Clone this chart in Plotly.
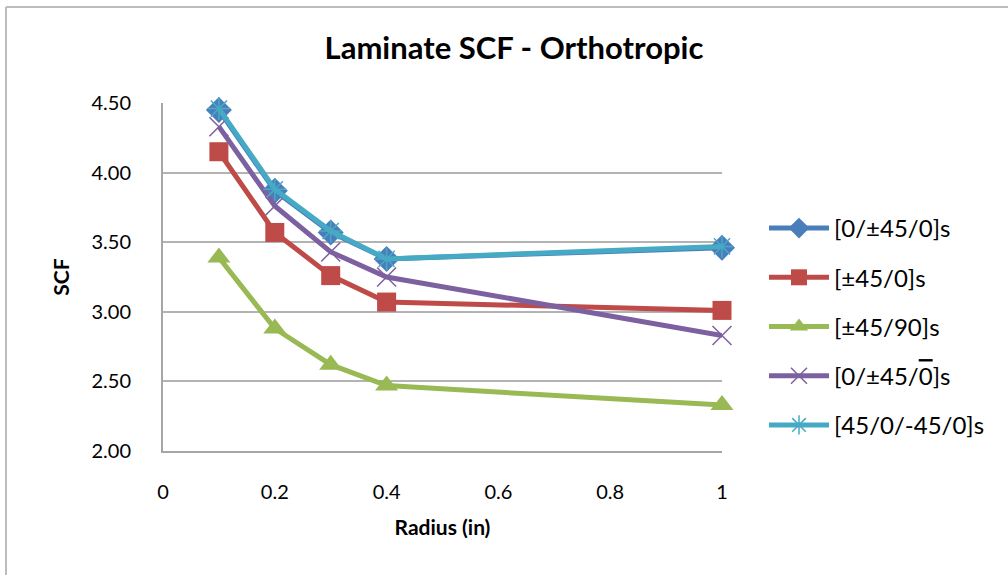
import plotly.graph_objects as go

# Hole radius (in) and stress concentration factors per layup
radius = [0.1, 0.2, 0.3, 0.4, 1.0]

layup_names = [
    "[0/±45/0]s",
    "[±45/0]s",
    "[±45/90]s",
    "[0/±45/<span style='text-decoration:overline'>0</span>]s",
    "[45/0/-45/0]s",
]

scf_0_pm45_0 = [4.45, 3.87, 3.57, 3.38, 3.46]
scf_pm45_0 = [4.15, 3.57, 3.26, 3.07, 3.01]
scf_pm45_90 = [3.39, 2.88, 2.62, 2.47, 2.33]
scf_0_pm45_0bar = [4.33, 3.76, 3.43, 3.25, 2.83]
scf_45_0_m45_0 = [4.46, 3.88, 3.58, 3.38, 3.47]

x_ticks = [0, 0.2, 0.4, 0.6, 0.8, 1]
x_tick_text = ["0", "0.2", "0.4", "0.6", "0.8", "1"]
y_ticks = [2.0, 2.5, 3.0, 3.5, 4.0, 4.5]

series = [
    (scf_0_pm45_0, "#4A7EBB", dict(symbol="diamond", size=20)),
    (scf_pm45_0, "#BE4B48", dict(symbol="square", size=19)),
    (scf_pm45_90, "#98B954", dict(symbol="triangle-up", size=20)),
    (scf_0_pm45_0bar, "#7D60A0", dict(symbol="x-thin-open", size=19, line=dict(width=1.5, color="#A48FC4"))),
    (scf_45_0_m45_0, "#46AAC5", dict(symbol="asterisk-open", size=19, line=dict(width=1.5, color="#6CC0DA"))),
]

FONT = "Lato, 'Open Sans', sans-serif"

fig = go.Figure()
for i, (vals, color, mk) in enumerate(series):
    marker = dict(color=color, **mk)
    if "line" not in marker:
        marker["line"] = dict(width=0)
    fig.add_trace(go.Scatter(
        x=radius, y=vals, name=layup_names[i], mode="lines+markers",
        line=dict(color=color, width=5),
        marker=marker, cliponaxis=False, legendgroup=f"g{i}",
    ))

# Chart area frame (left and top edges)
fig.add_shape(type="line", xref="paper", yref="paper",
              x0=(6 - 163) / 559, x1=(6 - 163) / 559, y0=(451 - 7) / 348, y1=(451 - 600) / 348,
              line=dict(color="#BDBDBD", width=2))
fig.add_shape(type="line", xref="paper", yref="paper",
              x0=(6 - 163) / 559, x1=(1020 - 163) / 559, y0=(451 - 7) / 348, y1=(451 - 7) / 348,
              line=dict(color="#BDBDBD", width=2))

fig.update_layout(
    width=1008, height=575,
    margin=dict(l=163, r=286, t=103, b=124),
    paper_bgcolor="white", plot_bgcolor="white",
    font=dict(family=FONT, color="#000000"),
    title=dict(text="<b>Laminate SCF - Orthotropic</b>", x=514 / 1008, xanchor="center",
               y=1 - 48 / 575, yanchor="middle", font=dict(size=31, color="#000000")),
    xaxis=dict(range=[0, 1], tickvals=x_ticks, ticktext=x_tick_text,
               showgrid=False, showline=True, linecolor="#A6A6A6", linewidth=2,
               ticks="", ticklabelstandoff=22, zeroline=False,
               tickfont=dict(size=20),
               title=dict(text="<b>Radius (in)</b>", font=dict(size=21), standoff=18)),
    yaxis=dict(range=[2, 4.5], tickvals=y_ticks, tickformat=".2f",
               showgrid=True, gridcolor="#B3B3B3", gridwidth=1.5,
               showline=True, linecolor="#A6A6A6", linewidth=2,
               ticks="", ticklabelstandoff=26, zeroline=False,
               tickfont=dict(size=20),
               title=dict(text="<b>SCF</b>", font=dict(size=21), standoff=16)),
    legend=dict(x=(764 - 163) / 559, xanchor="left", y=(451 - 206) / 348, yanchor="top",
                font=dict(size=24, color="#000000"), itemwidth=60,
                tracegroupgap=15, bgcolor="rgba(0,0,0,0)"),
    showlegend=True,
)

fig.write_html("out.html")
